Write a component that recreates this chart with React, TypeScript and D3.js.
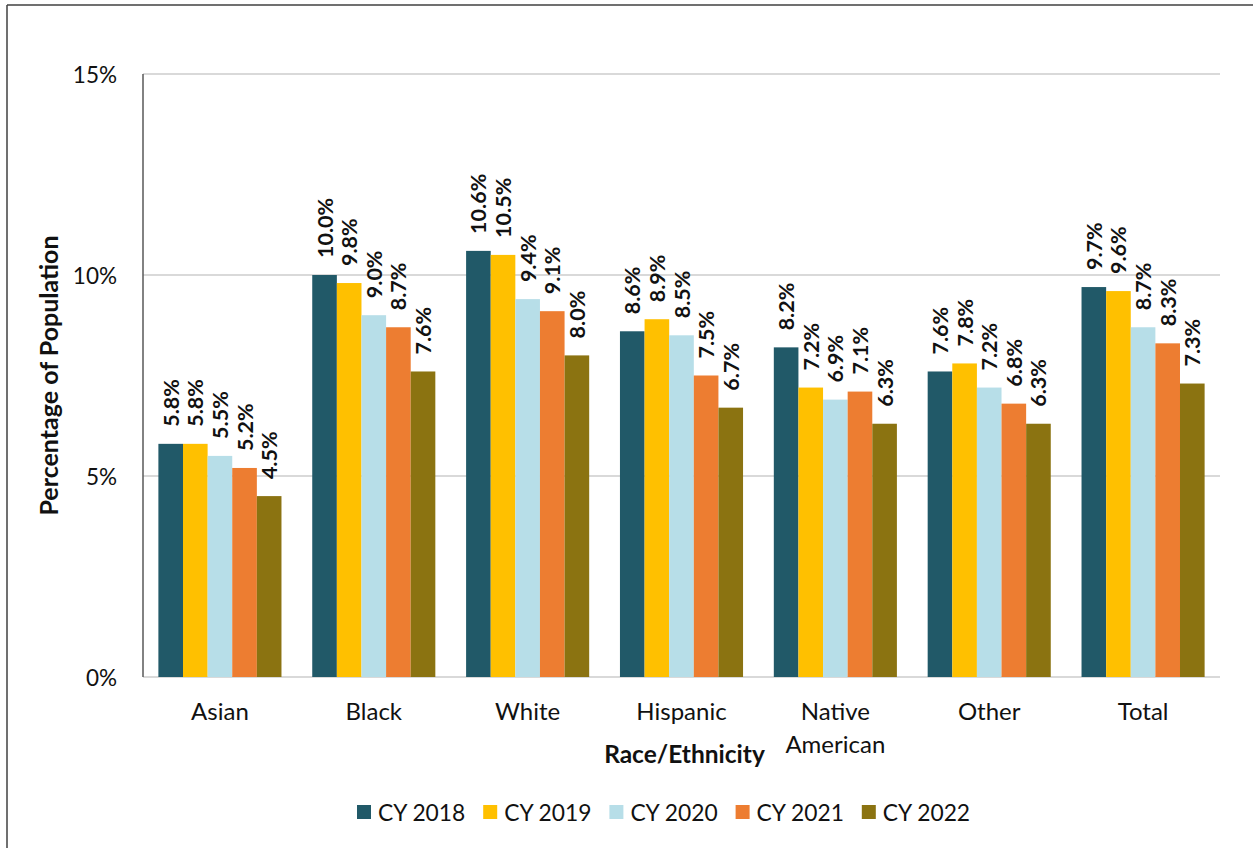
import React from "react";
import * as d3 from "d3";

const categories = ["Asian", "Black", "White", "Hispanic", "Native American", "Other", "Total"];
const series = ["CY 2018", "CY 2019", "CY 2020", "CY 2021", "CY 2022"];
const colors = ["#215968", "#FFC000", "#B7DEE8", "#ED7D31", "#8B7311"];
const cy2018 = [5.8, 10.0, 10.6, 8.6, 8.2, 7.6, 9.7];
const cy2019 = [5.8, 9.8, 10.5, 8.9, 7.2, 7.8, 9.6];
const cy2020 = [5.5, 9.0, 9.4, 8.5, 6.9, 7.2, 8.7];
const cy2021 = [5.2, 8.7, 9.1, 7.5, 7.1, 6.8, 8.3];
const cy2022 = [4.5, 7.6, 8.0, 6.7, 6.3, 6.3, 7.3];
const seriesValues = [cy2018, cy2019, cy2020, cy2021, cy2022];
const yTicks = [0, 5, 10, 15];

const W = 1253;
const H = 848;
const left = 143;
const right = 1220;
const top = 74;
const bottom = 677;
const FONT = "Lato, 'Open Sans', sans-serif";

export default function App() {
  const x0 = d3.scaleBand<string>().domain(categories).range([left, right]).paddingInner(0.2).paddingOuter(0.1);
  const x1 = d3.scaleBand<string>().domain(series).range([0, x0.bandwidth()]).padding(0);
  const y = d3.scaleLinear().domain([0, 15]).range([bottom, top]);

  return (
    <svg width={W} height={H} style={{ position: "absolute", left: 0, top: 0, background: "#fff" }} fontFamily={FONT}>
      <rect x={0} y={0} width={W} height={H} fill="#fff" />
      {/* frame */}
      <line x1={7} x2={W} y1={5} y2={5} stroke="#404040" strokeWidth={1.5} />
      <line x1={7} x2={7} y1={5} y2={H} stroke="#404040" strokeWidth={1.5} />

      {/* gridlines */}
      {yTicks.map((t) => (
        <g key={t}>
          <line x1={left} x2={right} y1={y(t)} y2={y(t)} stroke="#d9d9d9" strokeWidth={2} />
          <text x={left - 26} y={y(t)} textAnchor="end" dominantBaseline="central" fontSize={22.5} fill="#111">
            {t}%
          </text>
        </g>
      ))}
      <line x1={left} x2={left} y1={top} y2={bottom} stroke="#595959" strokeWidth={1.5} />

      {/* bars */}
      {categories.map((c, ci) => (
        <g key={c}>
          {series.map((s, si) => {
            const v = seriesValues[si][ci];
            const bx = (x0(c) as number) + (x1(s) as number);
            const bw = x1.bandwidth();
            return (
              <g key={s}>
                <rect x={bx} y={y(v)} width={bw} height={bottom - y(v)} fill={colors[si]} />
                <text
                  transform={`translate(${bx + bw / 2},${y(v) - 17}) rotate(-90)`}
                  textAnchor="start"
                  dominantBaseline="central"
                  fontSize={21.5}
                  fontWeight="bold"
                  fill="#111"
                >
                  {v.toFixed(1)}%
                </text>
              </g>
            );
          })}
        </g>
      ))}

      {/* category labels */}
      {categories.map((c) => {
        const cx = (x0(c) as number) + x0.bandwidth() / 2;
        const words = c === "Native American" ? ["Native", "American"] : [c];
        return (
          <text key={c} x={cx} textAnchor="middle" fontSize={24} fill="#111">
            {words.map((w, i) => (
              <tspan key={w} x={cx} y={710 + i * 33} dominantBaseline="central">
                {w}
              </tspan>
            ))}
          </text>
        );
      })}

      {/* axis titles */}
      <text x={(left + right) / 2 + 3} y={753} textAnchor="middle" dominantBaseline="central" fontSize={24.5} fontWeight="bold" fill="#111">
        Race/Ethnicity
      </text>
      <text
        transform={`translate(48,${(top + bottom) / 2}) rotate(-90)`}
        textAnchor="middle"
        dominantBaseline="central"
        fontSize={25}
        fontWeight="bold"
        fill="#111"
      >
        Percentage of Population
      </text>

      {/* legend */}
      {series.map((s, i) => {
        const lx = 357 + i * 126.2;
        return (
          <g key={s}>
            <rect x={lx} y={805} width={14} height={14} fill={colors[i]} />
            <text x={lx + 21} y={812} dominantBaseline="central" fontSize={22.8} fill="#111">
              {s}
            </text>
          </g>
        );
      })}
    </svg>
  );
}
